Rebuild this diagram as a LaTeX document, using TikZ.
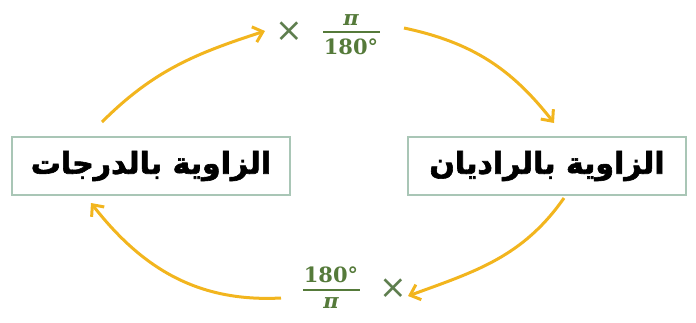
\documentclass[tikz,border=0pt]{standalone}
\usepackage{fontspec}
\newfontfamily\arabicfont[Script=Arabic,BoldFeatures={FakeBold=2}]{DejaVu Sans}
\newfontfamily\numfont{DejaVu Serif}
\newfontfamily\mulfont{DejaVu Sans}
\TeXXeTstate=1
\usetikzlibrary{arrows.meta}
\definecolor{arr}{HTML}{F2B51E}
\definecolor{grn}{HTML}{557A3A}
\definecolor{xgrn}{HTML}{5E7E4E}
\definecolor{bord}{HTML}{A9C6B6}
\begin{document}
\begin{tikzpicture}[x=1pt,y=-1pt,
  box/.style={draw=bord,line width=1.2pt,minimum width=278pt,minimum height=58pt,inner sep=0pt,
    font=\fontsize{30}{32}\arabicfont\bfseries},
  cyc/.style={draw=arr,line width=3pt,-{Straight Barb[length=9pt,width=16pt,line width=3pt]}},
  lab/.style={text=grn,inner sep=0pt,font=\fontsize{21}{24}\numfont\bfseries},
  pilab/.style={lab,font=\fontsize{21}{24}\numfont\bfseries\itshape},
  fbar/.style={draw=grn,line width=1.1pt},
  mul/.style={text=xgrn,inner sep=0pt,font=\fontsize{33}{33}\mulfont}]
\useasboundingbox (0,0) rectangle (696,322);
\node[box] (L) at (151,166) {\beginR الزاوية بالدرجات\endR};
\node[box] (R) at (547,166) {\beginR الزاوية بالراديان\endR};
% top factor
\node[mul] (x1) at (289,32) {×};
\node[pilab] (n1) at (351,20) {π};
\node[lab] (d1) at (351,47) {180°};
\draw[fbar] (323,32) -- (380,32);
% bottom factor
\node[lab] (n2) at (331,275) {180°};
\node[pilab] (d2) at (331,303) {π};
\draw[fbar] (303,290) -- (360,290);
\node[mul] (x2) at (393,289) {×};
\coordinate (a1) at (102,122);
\coordinate (b1) at (265,31);
\coordinate (a2) at (404,28);
\coordinate (b2) at (554,123);
\coordinate (a3) at (564,198);
\coordinate (b3) at (408,296);
\coordinate (a4) at (281,298);
\coordinate (b4) at (91,203);
\draw[cyc] (a1) to[out=45,in=198] (b1);
\draw[cyc] (a2) to[out=-12,in=128] (b2);
\draw[cyc] (a3) to[out=-125,in=20] (b3);
\draw[cyc] (a4) to[out=183,in=-52] (b4);
\end{tikzpicture}
\end{document}
